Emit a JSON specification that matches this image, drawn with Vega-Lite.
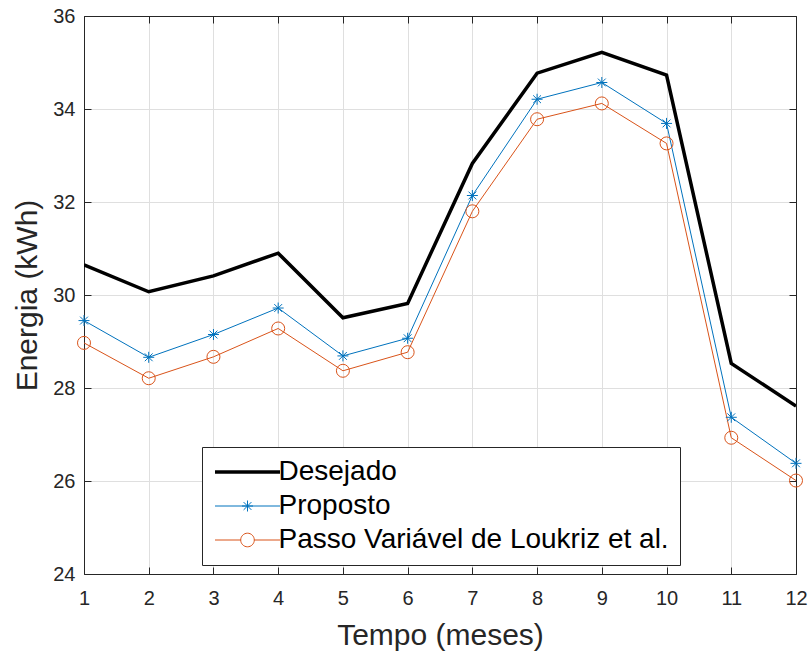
{
  "$schema": "https://vega.github.io/schema/vega-lite/v6.json",
  "width": 712,
  "height": 558,
  "autosize": {"type": "none"},
  "padding": {"left": 84, "top": 16, "right": 14, "bottom": 81},
  "background": "white",
  "config": {
    "font": "Liberation Sans",
    "view": {"stroke": null},
    "axis": {
      "labelFont": "Liberation Sans",
      "titleFont": "Liberation Sans",
      "labelColor": "#262626",
      "titleColor": "#262626",
      "domainColor": "#262626",
      "tickColor": "#262626",
      "gridColor": "#dfdfdf",
      "gridOpacity": 1,
      "labelFontSize": 20,
      "titleFontSize": 30,
      "titleFontWeight": "normal"
    }
  },
  "data": {
    "values": [
      {"mes": 1, "serie": "Desejado", "energia": 30.65},
      {"mes": 2, "serie": "Desejado", "energia": 30.07},
      {"mes": 3, "serie": "Desejado", "energia": 30.41},
      {"mes": 4, "serie": "Desejado", "energia": 30.90},
      {"mes": 5, "serie": "Desejado", "energia": 29.51},
      {"mes": 6, "serie": "Desejado", "energia": 29.82},
      {"mes": 7, "serie": "Desejado", "energia": 32.83},
      {"mes": 8, "serie": "Desejado", "energia": 34.77},
      {"mes": 9, "serie": "Desejado", "energia": 35.22},
      {"mes": 10, "serie": "Desejado", "energia": 34.73},
      {"mes": 11, "serie": "Desejado", "energia": 28.53},
      {"mes": 12, "serie": "Desejado", "energia": 27.61},
      {"mes": 1, "serie": "Proposto", "energia": 29.45},
      {"mes": 2, "serie": "Proposto", "energia": 28.66},
      {"mes": 3, "serie": "Proposto", "energia": 29.15},
      {"mes": 4, "serie": "Proposto", "energia": 29.72},
      {"mes": 5, "serie": "Proposto", "energia": 28.69},
      {"mes": 6, "serie": "Proposto", "energia": 29.07},
      {"mes": 7, "serie": "Proposto", "energia": 32.14},
      {"mes": 8, "serie": "Proposto", "energia": 34.21},
      {"mes": 9, "serie": "Proposto", "energia": 34.57},
      {"mes": 10, "serie": "Proposto", "energia": 33.69},
      {"mes": 11, "serie": "Proposto", "energia": 27.37},
      {"mes": 12, "serie": "Proposto", "energia": 26.38},
      {"mes": 1, "serie": "Passo Variável de Loukriz et al.", "energia": 28.97},
      {"mes": 2, "serie": "Passo Variável de Loukriz et al.", "energia": 28.21},
      {"mes": 3, "serie": "Passo Variável de Loukriz et al.", "energia": 28.67},
      {"mes": 4, "serie": "Passo Variável de Loukriz et al.", "energia": 29.28},
      {"mes": 5, "serie": "Passo Variável de Loukriz et al.", "energia": 28.37},
      {"mes": 6, "serie": "Passo Variável de Loukriz et al.", "energia": 28.77},
      {"mes": 7, "serie": "Passo Variável de Loukriz et al.", "energia": 31.80},
      {"mes": 8, "serie": "Passo Variável de Loukriz et al.", "energia": 33.78},
      {"mes": 9, "serie": "Passo Variável de Loukriz et al.", "energia": 34.12},
      {"mes": 10, "serie": "Passo Variável de Loukriz et al.", "energia": 33.26},
      {"mes": 11, "serie": "Passo Variável de Loukriz et al.", "energia": 26.93},
      {"mes": 12, "serie": "Passo Variável de Loukriz et al.", "energia": 26.01}
    ]
  },
  "resolve": {"axis": {"x": "independent", "y": "independent"}},
  "layer": [
    {
      "mark": {"type": "line", "clip": true},
      "encoding": {
        "x": {
          "field": "mes", "type": "quantitative",
          "scale": {"domain": [1, 12], "nice": false, "zero": false},
          "axis": {
            "orient": "bottom", "title": "Tempo (meses)",
            "values": [1, 2, 3, 4, 5, 6, 7, 8, 9, 10, 11, 12],
            "grid": true, "tickSize": -7, "labelPadding": 21, "titlePadding": 12,
            "labelFlush": false
          }
        },
        "y": {
          "field": "energia", "type": "quantitative",
          "scale": {"domain": [24, 36], "nice": false, "zero": false},
          "axis": {
            "orient": "left", "title": "Energia (kWh)",
            "values": [24, 26, 28, 30, 32, 34, 36],
            "grid": true, "tickSize": -7, "labelPadding": 16, "titlePadding": 10,
            "labelFlush": false
          }
        },
        "color": {
          "field": "serie", "type": "nominal",
          "scale": {
            "domain": ["Desejado", "Proposto", "Passo Variável de Loukriz et al."],
            "range": ["#000000", "#0072BD", "#D95319"]
          },
          "legend": {
            "orient": "none", "legendX": 118, "legendY": 431,
            "title": null,
            "labelFont": "Liberation Sans", "labelFontSize": 28, "labelColor": "#000000",
            "labelLimit": 600,
            "symbolSize": 400, "symbolOffset": 20.5, "labelOffset": 17,
            "padding": 11, "rowPadding": 6,
            "fillColor": "white", "strokeColor": "#262626", "cornerRadius": 0,
            "encode": {
              "symbols": {
                "update": {
                  "shape": {"signal": "datum.value === 'Desejado' ? 'M-3.25,0L3.25,0' : datum.value === 'Proposto' ? 'M-3.25,0L3.25,0M-0.55,0L0.55,0M0,-0.55L0,0.55M-0.39,-0.39L0.39,0.39M-0.39,0.39L0.39,-0.39' : 'M-3.25,0L-0.68,0M0.68,0L3.25,0M0.68,0A0.68,0.68,0,1,1,-0.68,0A0.68,0.68,0,1,1,0.68,0'"},
                  "strokeWidth": {"signal": "datum.value === 'Desejado' ? 3.5 : 1"},
                  "fill": {"value": "transparent"},
                  "opacity": {"value": 1}
                }
              }
            }
          }
        },
        "strokeWidth": {
          "condition": {"test": "datum.serie === 'Desejado'", "value": 3.5},
          "value": 1
        }
      }
    },
    {
      "transform": [{"filter": "datum.serie === 'Proposto'"}],
      "mark": {
        "type": "point",
        "shape": "M-1,0L1,0M0,-1L0,1M-0.71,-0.71L0.71,0.71M-0.71,0.71L0.71,-0.71",
        "size": 121, "filled": false, "stroke": "#0072BD", "strokeWidth": 1, "opacity": 1
      },
      "encoding": {
        "x": {
          "field": "mes", "type": "quantitative",
          "axis": {
            "orient": "top", "title": null, "labels": false, "grid": false,
            "values": [1, 2, 3, 4, 5, 6, 7, 8, 9, 10, 11, 12], "tickSize": -7
          }
        },
        "y": {
          "field": "energia", "type": "quantitative",
          "axis": {
            "orient": "right", "title": null, "labels": false, "grid": false,
            "values": [24, 26, 28, 30, 32, 34, 36], "tickSize": -7
          }
        }
      }
    },
    {
      "transform": [{"filter": "datum.serie === 'Passo Variável de Loukriz et al.'"}],
      "mark": {
        "type": "point", "shape": "circle",
        "size": 169, "filled": false, "stroke": "#D95319", "strokeWidth": 1, "opacity": 1
      },
      "encoding": {
        "x": {"field": "mes", "type": "quantitative", "axis": null},
        "y": {"field": "energia", "type": "quantitative", "axis": null}
      }
    }
  ]
}
